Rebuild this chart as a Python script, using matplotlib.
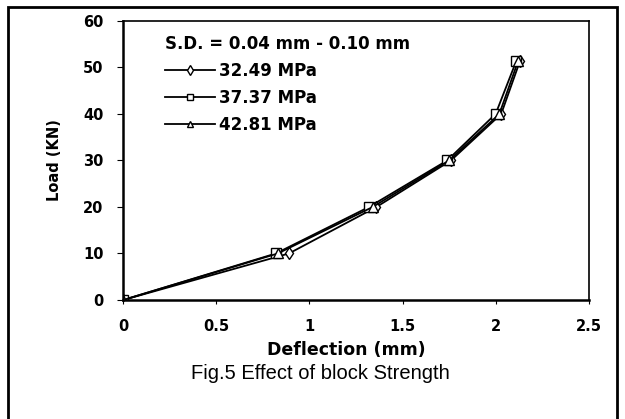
import numpy as np
import matplotlib
import matplotlib.pyplot as plt
from matplotlib.patches import Rectangle
matplotlib.use('Agg')

# deflection (mm) vs load (KN) per block strength
load = [0, 10, 20, 30, 40, 51.3]
defl_3249 = [0, 0.89, 1.36, 1.76, 2.03, 2.13]
defl_3737 = [0, 0.82, 1.32, 1.74, 2.00, 2.11]
defl_4281 = [0, 0.83, 1.34, 1.75, 2.02, 2.12]
labels = ['32.49 MPa', '37.37 MPa', '42.81 MPa']
markers = ['d', 's', '^']

plt.rcParams['font.family'] = ['DejaVu Sans']

fig = plt.figure(figsize=(6.25, 4.19), dpi=100)
ax = fig.add_axes([0.197, 0.284, 0.745, 0.666])

for x, lab, m in zip([defl_3249, defl_3737, defl_4281], labels, markers):
    ax.plot(x, load, color='black', lw=1.3, marker=m, markersize=7 if m != 'd' else 6,
            markerfacecolor='white', markeredgecolor='black', markeredgewidth=1.0, label=lab)

ax.set_xlim(0, 2.5)
ax.set_ylim(0, 60)
ax.set_xticks([0, 0.5, 1, 1.5, 2, 2.5])
ax.set_xticklabels(['0', '0.5', '1', '1.5', '2', '2.5'])
ax.set_yticks(range(0, 61, 10))
for t in ax.get_xticklabels() + ax.get_yticklabels():
    t.set_fontweight('bold')
    t.set_fontsize(10.5)
ax.tick_params(axis='x', direction='out', length=3, pad=11)
ax.tick_params(axis='y', direction='out', length=4, pad=10)
for s in ['left', 'bottom']:
    ax.spines[s].set_linewidth(1.8)
for s in ['top', 'right']:
    ax.spines[s].set_linewidth(1.2)

ax.set_xlabel('Deflection (mm)', fontweight='bold', fontsize=12.5)
ax.xaxis.set_label_coords(0.479, -0.148)
ax.set_ylabel('Load (KN)', fontweight='bold', fontsize=10.5, labelpad=15)

leg = ax.legend(loc='upper left', bbox_to_anchor=(0.065, 0.99), frameon=False,
                title='S.D. = 0.04 mm - 0.10 mm', handlelength=3.0, handletextpad=0.25,
                labelspacing=0.55, borderaxespad=0.3,
                prop={'weight': 'bold', 'size': 12},
                title_fontproperties={'weight': 'bold', 'size': 12})
leg._legend_box.align = 'left'
leg._legend_box.sep = 6
for h in leg.legend_handles:
    h.set_markersize(5)

fig.text(0.512, 0.108, 'Fig.5 Effect of block Strength', ha='center', va='center',
         fontsize=14.5, family=['Liberation Sans'])

fig.add_artist(Rectangle((0.012, -0.02), 0.975, 1.003, transform=fig.transFigure,
                         fill=False, edgecolor='black', lw=2))

fig.savefig('out.png', dpi=100)
